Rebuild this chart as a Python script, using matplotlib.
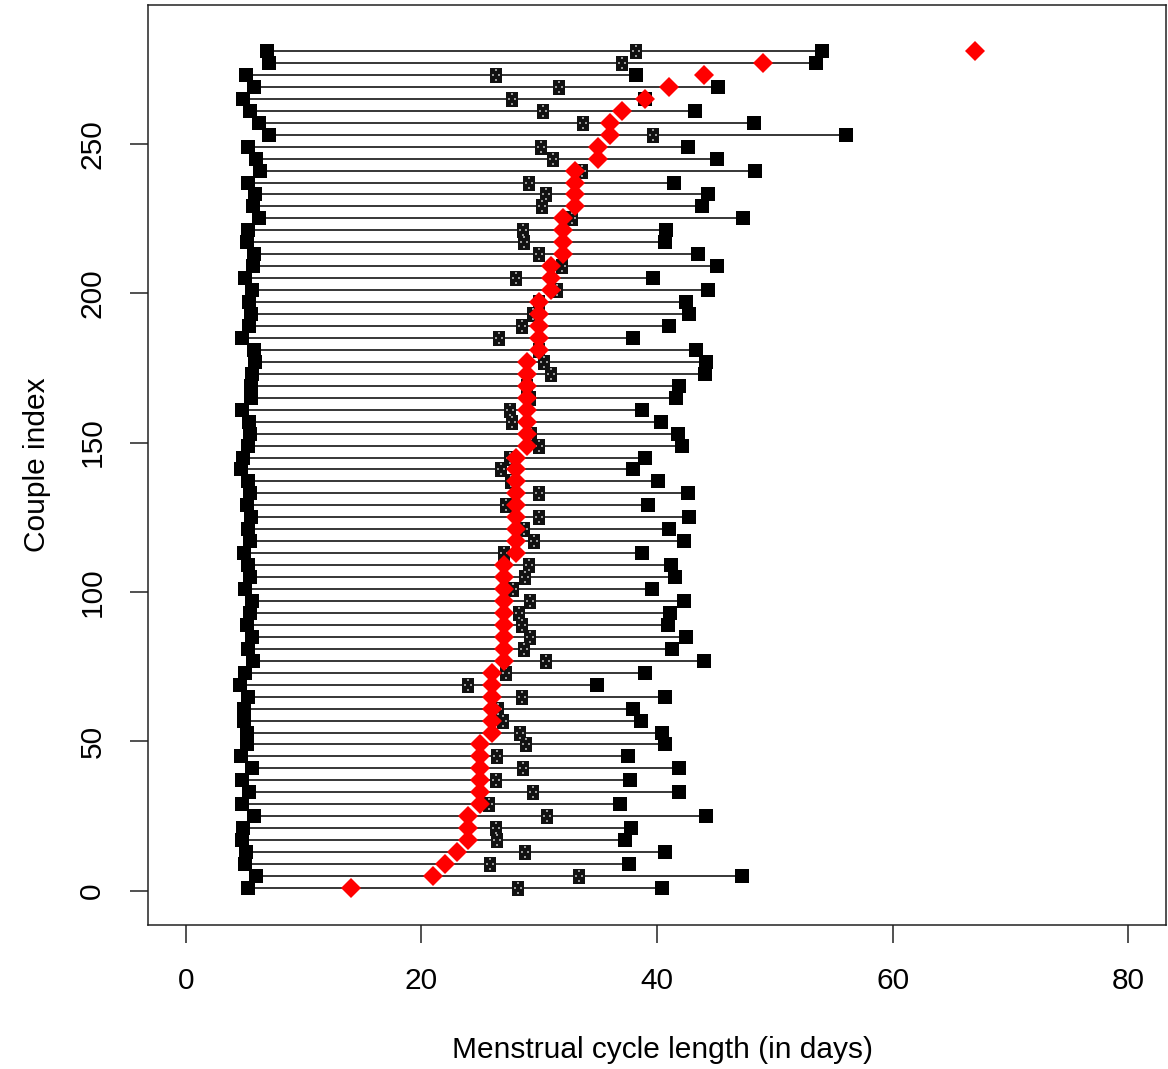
import matplotlib
matplotlib.use("Agg")
import matplotlib.pyplot as plt
from matplotlib.path import Path

plt.rcParams['font.family'] = ['Liberation Sans', 'DejaVu Sans']

# couple index (one row per couple shown)
couple_index = [1, 5, 9, 13, 17, 21, 25, 29, 33, 37, 41, 45, 49, 53, 57, 61, 65, 69,
                73, 77, 81, 85, 89, 93, 97, 101, 105, 109, 113, 117, 121, 125, 129,
                133, 137, 141, 145, 149, 153, 157, 161, 165, 169, 173, 177, 181, 185,
                189, 193, 197, 201, 205, 209, 213, 217, 221, 225, 229, 233, 237, 241,
                245, 249, 253, 257, 261, 265, 269, 273, 277, 281]

# lower end (black square, left)
low_len = [5.25, 5.96, 5.0, 5.08, 4.74, 4.9, 5.8, 4.8, 5.4, 4.8, 5.6, 4.7, 5.2, 5.2,
           4.97, 4.97, 5.25, 4.6, 5.0, 5.7, 5.3, 5.6, 5.2, 5.45, 5.6, 5.0, 5.45, 5.25,
           4.94, 5.45, 5.25, 5.5, 5.2, 5.45, 5.25, 4.7, 4.9, 5.25, 5.45, 5.4, 4.8, 5.5,
           5.5, 5.6, 5.9, 5.8, 4.8, 5.4, 5.5, 5.4, 5.6, 5.0, 5.7, 5.8, 5.2, 5.25, 6.2,
           5.75, 5.9, 5.3, 6.3, 6.0, 5.3, 7.04, 6.25, 5.45, 4.9, 5.8, 5.1, 7.04, 6.87]

# middle estimate (hatched square)
mid_len = [28.2, 33.4, 25.8, 28.8, 26.4, 26.3, 30.7, 25.75, 29.5, 26.3, 28.65, 26.4,
           28.9, 28.4, 26.9, 26.5, 28.5, 24.0, 27.2, 30.6, 28.7, 29.2, 28.5, 28.25,
           29.2, 27.8, 28.8, 29.1, 27.0, 29.6, 28.7, 29.95, 27.2, 29.95, 27.6, 26.8,
           27.5, 30.0, 29.3, 27.7, 27.5, 29.2, 29.0, 31.0, 30.4, 30.0, 26.6, 28.5,
           29.5, 30.0, 31.5, 28.0, 31.9, 29.95, 28.7, 28.6, 32.8, 30.2, 30.6, 29.1,
           33.6, 31.2, 30.15, 39.7, 33.7, 30.35, 27.7, 31.7, 26.3, 37.05, 38.2]

# upper end (black square, right)
high_len = [40.4, 47.2, 37.6, 40.7, 37.3, 37.8, 44.2, 36.9, 41.9, 37.7, 41.9, 37.5,
            40.7, 40.4, 38.6, 38.0, 40.7, 34.9, 39.0, 44.0, 41.3, 42.5, 40.9, 41.1,
            42.3, 39.6, 41.5, 41.2, 38.7, 42.3, 41.0, 42.7, 39.2, 42.6, 40.1, 38.0,
            39.0, 42.1, 41.8, 40.3, 38.7, 41.6, 41.9, 44.1, 44.2, 43.3, 37.96, 41.0,
            42.7, 42.45, 44.35, 39.7, 45.1, 43.5, 40.7, 40.8, 47.3, 43.8, 44.3, 41.45,
            48.3, 45.1, 42.6, 56.0, 48.2, 43.2, 39.0, 45.2, 38.2, 53.5, 54.0]

# observed cycle length (red diamond)
obs_len = [14, 21, 22, 23, 24, 24, 24, 25, 25, 25, 25, 25, 25, 26, 26, 26, 26, 26, 26,
           27, 27, 27, 27, 27, 27, 27, 27, 27, 28, 28, 28, 28, 28, 28, 28, 28, 28,
           29, 29, 29, 29, 29, 29, 29, 29, 30, 30, 30, 30, 30, 31, 31, 31, 32, 32, 32,
           32, 33, 33, 33, 33, 35, 35, 36, 36, 37, 39, 41, 44, 49, 67]

x_ticks = [0, 20, 40, 60, 80]
y_ticks = [0, 50, 100, 150, 200, 250]

W, H = 1168, 1069
fig = plt.figure(figsize=(W / 100, H / 100), dpi=100)
ax = fig.add_axes([148 / W, 1 - 925 / H, (1166 - 148) / W, (925 - 5) / H])

ax.hlines(couple_index, low_len, high_len, colors='black', linewidth=1.1, zorder=1)
ax.plot(low_len, couple_index, 's', color='black', markersize=9.6, mew=0, zorder=2)
ax.plot(high_len, couple_index, 's', color='black', markersize=9.6, mew=0, zorder=2)

# hatched middle marker: tall black box with four grey dots
box = Path([(-0.38, -0.5), (0.38, -0.5), (0.38, 0.5), (-0.38, 0.5), (-0.38, -0.5)],
           [Path.MOVETO, Path.LINETO, Path.LINETO, Path.LINETO, Path.CLOSEPOLY])
dot_c = [(0, 0.33), (0, -0.33), (-0.18, 0.0), (0.18, 0.0)]
dv, dcodes = [], []
for cx, cy in dot_c:
    s = 0.06
    dv += [(cx - s, cy - s), (cx + s, cy - s), (cx + s, cy + s), (cx - s, cy + s), (cx - s, cy - s)]
    dcodes += [Path.MOVETO, Path.LINETO, Path.LINETO, Path.LINETO, Path.CLOSEPOLY]
# pad with invisible extent so dots keep the box scale
dv += [(0, 0.5), (0, -0.5)]
dcodes += [Path.MOVETO, Path.MOVETO]
dots = Path(dv, dcodes)

ax.plot(mid_len, couple_index, linestyle='none', marker=box, color='#111111',
        markersize=10.8, mew=0, zorder=3)
ax.plot(mid_len, couple_index, linestyle='none', marker=dots, color='#9a9a9a',
        markersize=10.8, mew=0, zorder=3.5)

ax.plot(obs_len, couple_index, 'D', color='#ff0000', markersize=10.4, mew=0, zorder=4)

ax.set_xlim(-3.2, 83.2)
ax.set_ylim(-11.4, 296.4)
ax.set_xticks(x_ticks)
ax.set_yticks(y_ticks)
ax.set_xticklabels([str(v) for v in x_ticks])
ax.set_yticklabels([str(v) for v in y_ticks], rotation=90, va='center')
ax.tick_params(axis='both', direction='out', length=13, width=1.1, labelsize=21.5,
               pad=17, color='#222222')
for sp in ax.spines.values():
    sp.set_linewidth(1.1)
    sp.set_color('#222222')

fig.text(662 / W, 1 - 1050 / H, 'Menstrual cycle length (in days)', fontsize=21.5,
         ha='center', va='center')
fig.text(37 / W, 1 - 465 / H, 'Couple index', fontsize=21.5, rotation=90,
         ha='center', va='center')

fig.savefig('out.png', dpi=100)
